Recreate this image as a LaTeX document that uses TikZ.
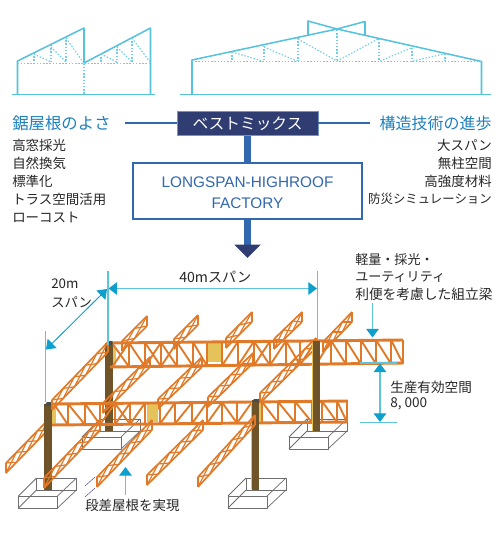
\documentclass[tikz,border=0pt]{standalone}
\usepackage{fontspec}
\setmainfont{Noto Sans CJK JP}
\newfontfamily\latinfont{Liberation Sans}
\usetikzlibrary{arrows.meta}
\definecolor{roofc}{HTML}{55C2DE}
\definecolor{dotc}{HTML}{74CDE2}
\definecolor{dimline}{HTML}{5CC4DF}
\definecolor{dimtip}{HTML}{0F9FCC}
\definecolor{navyc}{HTML}{2F3D72}
\definecolor{bluec}{HTML}{3268AE}
\definecolor{headc}{HTML}{1F80BC}
\definecolor{orangec}{HTML}{E07A28}
\definecolor{yellowc}{HTML}{E5C35A}
\definecolor{colc}{HTML}{6F5329}
\definecolor{footc}{HTML}{6E6E6E}
\tikzset{
 roof/.style={draw=roofc,line width=1.15pt,line join=round},
 dots/.style={draw=dotc,line width=0.85pt,dash pattern=on 1.1pt off 1.3pt},
 txt/.style={inner sep=0pt,anchor=west,text=black!85,font=\fontsize{10.1pt}{12pt}\selectfont},
 rtxt/.style={txt,anchor=east},
 head/.style={inner sep=0pt,text=headc,font=\fontsize{12pt}{14pt}\selectfont},
 link/.style={draw=bluec,line width=1.3pt},
 thick link/.style={draw=bluec,line width=4.6pt},
 dim/.style={draw=dimline,line width=0.9pt},
 dimb/.style={draw=dimtip,line width=0.7pt},
 tipb/.style={-{Triangle[length=6.5pt,width=9.5pt,color=dimtip]}},
 tipab/.style={{Triangle[length=6.5pt,width=9.5pt,color=dimtip]}-{Triangle[length=6.5pt,width=9.5pt,color=dimtip]}},
 chord/.style={draw=orangec,line width=1.25pt},
 web/.style={draw=orangec,line width=0.9pt},
 mainchord/.style={draw=orangec,line width=2.2pt},
 mainweb/.style={draw=orangec,line width=1.4pt},
 foot/.style={draw=footc,line width=0.55pt,line join=round},
 column/.style={fill=colc,draw=none},
}
% cross truss: upper-right end, lower-left end
\newcommand{\crosstruss}[4]{%
 \pgfmathsetmacro\ctn{int(round(abs(#1-#3)/11))}
 \foreach \ci in {1,...,\ctn}{
  \pgfmathsetmacro\cxa{#1+(#3-#1)*(\ci-1)/\ctn}
  \pgfmathsetmacro\cya{#2+(#4-#2)*(\ci-1)/\ctn}
  \pgfmathsetmacro\cxb{#1+(#3-#1)*\ci/\ctn}
  \pgfmathsetmacro\cyb{#2+(#4-#2)*\ci/\ctn}
  \draw[web] (\cxa,\cya-5) -- (\cxb,\cyb+5);
  \draw[web] (\cxa,\cya+5) -- (\cxb,\cyb-5);
 }
 \draw[chord] (#1,#2-5) -- (#3,#4-5);
 \draw[chord] (#1,#2+5) -- (#3,#4+5);
 \draw[chord] (#1,#2-5) -- (#1,#2+5);
 \draw[chord] (#3,#4-5) -- (#3,#4+5);
}
% main truss panel: x left, x right, kind, ytop at origin, ybot at origin, slope, origin x
\newcommand{\panel}[7]{%
 \pgfmathsetmacro\pta{#4+(#1-#7)*#6}
 \pgfmathsetmacro\ptb{#4+(#2-#7)*#6}
 \pgfmathsetmacro\pba{#5+(#1-#7)*#6}
 \pgfmathsetmacro\pbb{#5+(#2-#7)*#6}
 \draw[mainweb] (#2,\ptb) -- (#2,\pbb);
 \ifnum#3=1 \draw[mainweb] (#1,\pba) -- (#2,\ptb);\fi
 \ifnum#3=2 \draw[mainweb] (#1,\pta) -- (#2,\pbb);\fi
 \ifnum#3=3 \draw[mainweb] (#1,\pba) -- (#2,\ptb); \draw[mainweb] (#1,\pta) -- (#2,\pbb);\fi
}
\begin{document}
\begin{tikzpicture}[x=0.75pt,y=-0.75pt]
\useasboundingbox (0,0) rectangle (500,537);

% ---------- saw-tooth roof ----------
\draw[roof] (12,94.5) -- (155,94.5);
\draw[roof] (17.5,94.5) -- (17.5,61) -- (84,28) -- (84,63) -- (150.5,28) -- (150.5,94.5);
\draw[dots] (17.5,63.5) -- (150.5,63.5);
\draw[dots] (84,63.5) -- (84,94.5);
\draw[dots] (34,53) -- (34,63) (51,45) -- (51,63) (66,37) -- (66,63);
\draw[dots] (34,54) -- (51,62) (51,47) -- (66,62) (66,38) -- (83,62);
\draw[dots] (101,54) -- (101,63) (117,46) -- (117,63) (132,38) -- (132,63);
\draw[dots] (101,54) -- (117,62) (117,47) -- (132,62) (132,38) -- (150,62);

% ---------- long-span roof ----------
\draw[roof] (180,94.5) -- (491,94.5);
\draw[roof] (192,94.5) -- (192,60) -- (337,29) -- (365,21.5) -- (365,35);
\draw[roof] (308,35) -- (308,21) -- (337,29) -- (481.5,61.5) -- (481.5,94.5);
\draw[dots] (192,61.5) -- (481,61.5);
\draw[dots] (232,52) -- (232,61) (264,46) -- (264,61) (298,38) -- (298,61) (337,30) -- (337,61)
 (379,39) -- (379,61) (412,48) -- (412,61) (445,54) -- (445,61);
\draw[dots] (232,52) -- (262,61) (264,47) -- (297,61) (298,39) -- (337,61)
 (337,61) -- (378,39) (380,61) -- (411,48) (413,61) -- (444,54);

% ---------- centre flow ----------
\node[head,anchor=west,font=\fontsize{12.3pt}{14pt}\selectfont] (saw) at (12,123) {鋸屋根のよさ};
\node[head,anchor=east] (tech) at (492,123) {構造技術の進歩};
\node[draw=bluec!70,line width=0.4pt,fill=navyc,text=white,inner sep=0pt,minimum width=105.5pt,minimum height=18.4pt,font=\fontsize{11.8pt}{12pt}\selectfont] (best) at (247.5,123.3) {ベストミックス};
\node[draw=bluec,fill=white,line width=1.5pt,minimum width=172pt,minimum height=42pt,inner sep=0pt] (fact) at (247.5,190.5) {};
\node[inner sep=0pt,align=center,text=bluec,font=\latinfont\fontsize{11.5pt}{15.6pt}\selectfont] (ftext) at (247.5,192.5) {LONGSPAN-HIGHROOF\\FACTORY};
\coordinate (ll) at (125,123.3);
\coordinate (rr) at (370,123.3);
\coordinate (down) at (247.5,258);
\draw[link] (ll) -- (best.west);
\draw[link] (best.east) -- (rr);
\draw[thick link] (best.south) -- (fact.north);
\draw[thick link,-{Triangle[length=10pt,width=19pt,color=navyc]}] (fact.south) -- (down);

% ---------- lists ----------
\node[txt] (l1) at (12,145) {高窓採光};
\node[txt] (l2) at (12,163) {自然換気};
\node[txt] (l3) at (12,181) {標準化};
\node[txt] (l4) at (12,199) {トラス空間活用};
\node[txt] (l5) at (12,217) {ローコスト};
\node[rtxt] (r1) at (492,145) {大スパン};
\node[rtxt] (r2) at (492,163) {無柱空間};
\node[rtxt] (r3) at (492,181) {高強度材料};
\node[rtxt,font=\fontsize{9.3pt}{12pt}\selectfont] (r4) at (492,199) {防災シミュレーション};

% ---------- footings ----------
\foreach \fx/\fy in {18.5/478,228/478,82/419,289/419}{
 \begin{scope}[shift={(\fx,\fy)}]
  \draw[foot] (18,0) rectangle (58,12);
  \draw[foot] (0,30) -- (18,12) (39,30) -- (58,12);
  \draw[foot] (0,18) -- (18,0) (39,18) -- (58,0);
  \draw[foot,line width=0.75pt] (0,18) rectangle (39,30);
 \end{scope}
}
\draw[draw=blue!45!gray,line width=0.35pt] (85,486) -- (95,477) (85,497) -- (95,488);

% ---------- columns behind ----------
\fill[column] (105,343) rectangle (112.5,431);
\fill[yellowc] (113,346) rectangle (116,365);

% ---------- cross trusses behind the main trusses ----------
\crosstruss{147}{321}{122}{346}
\crosstruss{198}{320}{174}{344}
\crosstruss{252}{317}{226}{343}
\crosstruss{302}{317}{274}{344}
\crosstruss{352}{317}{323}{347}
\crosstruss{150}{362}{103}{408}
\crosstruss{202}{362}{158}{404}
\crosstruss{253}{358}{208}{402}
\crosstruss{316}{343}{260}{398}

% ---------- back main truss ----------
\fill[yellowc] (207,343) rectangle (222,362);
\foreach \a/\b/\k in {112/129/3,129/145/2,145/161/3,161/177/3,177/193/2,193/207/2,207/222/0,222/238/1,238/254/1,254/270/3,270/286/1,286/300/2,300/316/1,316/331/1,331/346/2,346/361/2,361/376/2,376/391/2,391/403/2}{
 \panel{\a}{\b}{\k}{343}{367}{-0.0115}{110}
}
\draw[mainchord] (110,343) -- (403,340);
\draw[mainchord] (110,367) -- (403,363);

% ---------- front-left cross truss and columns ----------
\crosstruss{48}{425}{6}{468}
\fill[column] (44,404) rectangle (52,490);
\fill[yellowc] (52,408) rectangle (56,424);
\fill[black!70] (44,406) -- (47,402) -- (52,402) -- (52,406) -- cycle;
\fill[black!70] (105,345) -- (108,341) -- (112.5,341) -- (112.5,345) -- cycle;

\crosstruss{108}{347}{52}{405}

% ---------- front main truss ----------
\fill[yellowc] (147,403) rectangle (158,422);
\fill[yellowc] (259,402) rectangle (263,421);
\foreach \a/\b/\k in {54/68/2,68/85/2,85/100/2,100/115/1,115/130/3,130/145/1,145/160/0,160/175/1,175/192/1,192/207/1,207/222/1,222/237/2,237/252/1,252/262/0,262/278/2,278/295/2,295/312/2,312/322/0,322/337/2,337/347/2}{
 \panel{\a}{\b}{\k}{404}{425}{-0.0101}{52}
}
\draw[mainchord] (52,404) -- (348,401);
\draw[mainchord] (52,425) -- (348,422);

% ---------- remaining columns ----------
\fill[yellowc] (312,343) rectangle (313.5,431);
\fill[column] (313,341) rectangle (319.5,431);
\fill[yellowc] (251,402) rectangle (252.5,489);
\fill[column] (252,400) rectangle (259,490);
\fill[black!70] (252,402) -- (254,399) -- (259,399) -- (259,402) -- cycle;

% ---------- front cantilevers ----------
\crosstruss{100}{425}{44}{483}
\crosstruss{152}{425}{97}{482}
\crosstruss{203}{425}{147}{480}
\crosstruss{255}{420}{198}{482}

% ---------- dimensions ----------
\coordinate (v1a) at (108,271); \coordinate (v1b) at (108,345);
\coordinate (v2a) at (317.5,271); \coordinate (v2b) at (317.5,340);
\coordinate (v3a) at (45.5,331); \coordinate (v3b) at (45.5,402);
\draw[dim] (v1a) -- (v1b);
\draw[dim] (v2a) -- (v2b);
\draw[dim] (v3a) -- (v3b);
\coordinate (h1) at (108.5,288.5); \coordinate (h2) at (317,288.5);
\draw[dim,tipab] (h1) -- (h2);
\coordinate (d1) at (107,289); \coordinate (d2) at (46,349.5);
\draw[dimb,tipab] (d1) -- (d2);
\coordinate (a1) at (372.5,303); \coordinate (a2) at (372.5,337.5);
\draw[dim,tipb] (a1) -- (a2);
\coordinate (g1) at (360,363); \coordinate (g2) at (397,363);
\coordinate (g3) at (360,422.5); \coordinate (g4) at (397,422.5);
\draw[dim] (g1) -- (g2);
\draw[dim] (g3) -- (g4);
\coordinate (g5) at (380,363.5); \coordinate (g6) at (380,422);
\draw[dim,tipab] (g5) -- (g6);
\coordinate (s1) at (125.5,495); \coordinate (s2) at (125.5,467);
\draw[dim,tipb] (s1) -- (s2);

% ---------- labels ----------
\node[txt,font=\fontsize{9.8pt}{12pt}\selectfont] (t1) at (355,260) {軽量・採光・};
\node[txt,font=\fontsize{9.8pt}{12pt}\selectfont] (t2) at (355,277.5) {ユーティリティ};
\node[txt,font=\fontsize{10.3pt}{12pt}\selectfont] (t3) at (355,294) {利便を考慮した組立梁};
\node[txt,font=\fontsize{10.6pt}{12pt}\selectfont] (t4) at (179,277) {40mスパン};
\node[txt,font=\fontsize{10pt}{12pt}\selectfont] (t5) at (51,284) {20m};
\node[txt,font=\fontsize{10pt}{12pt}\selectfont] (t6) at (51,302) {スパン};
\node[txt,font=\fontsize{10.2pt}{12pt}\selectfont] (t7) at (390,387) {生産有効空間};
\node[txt,font=\fontsize{10.2pt}{12pt}\selectfont] (t8) at (390,404) {8, 000};
\node[txt,font=\fontsize{10.1pt}{12pt}\selectfont] (t9) at (85,505) {段差屋根を実現};
\end{tikzpicture}
\end{document}
